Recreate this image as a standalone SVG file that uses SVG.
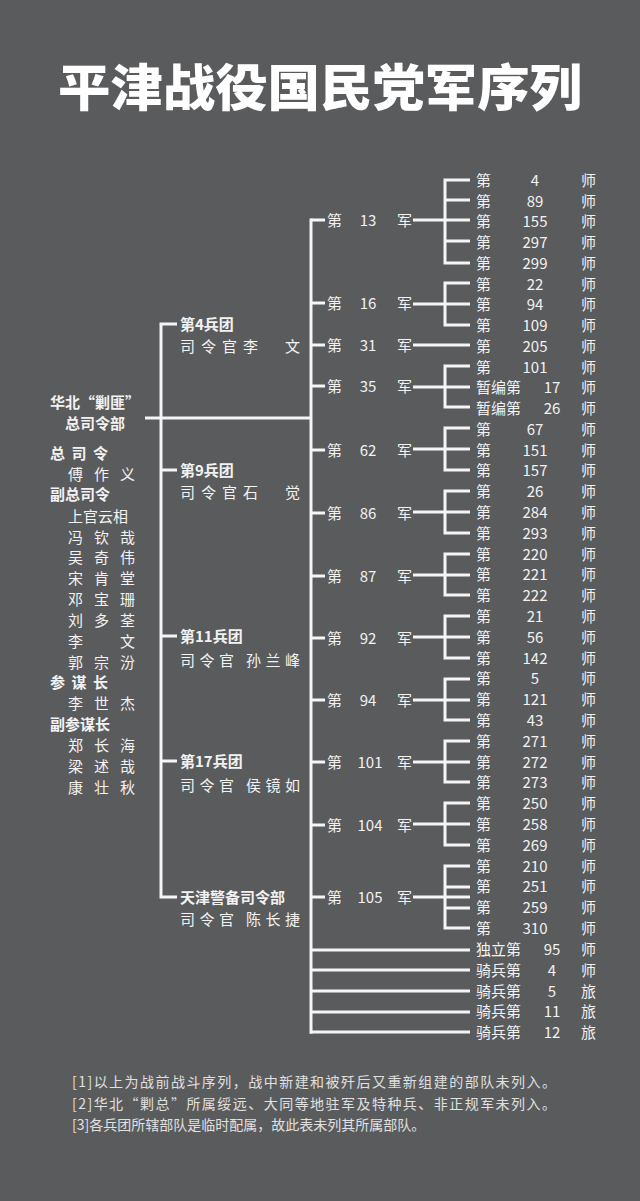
<svg xmlns="http://www.w3.org/2000/svg" width="640" height="1201" viewBox="0 0 640 1201">
<style>
text{font-family:"Noto Sans CJK SC","Noto Sans",sans-serif;fill:#f2f2f2;font-size:15px}
.b{font-weight:bold}
.t{font-size:50px;font-weight:900;fill:#fff}
.n{text-anchor:middle}
.f{font-size:14px;fill:#e0e0e0}
line,path{stroke:#f5f5f5;stroke-width:3;fill:none}
</style>
<rect width="640" height="1201" fill="#5a5b5d"/>
<text class="t" x="320" y="106" text-anchor="middle" textLength="524" lengthAdjust="spacingAndGlyphs">平津战役国民党军序列</text>
<g id="hq">
<text class="b" x="95" y="408" text-anchor="middle">华北“剿匪”</text>
<text class="b" x="95" y="429" text-anchor="middle">总司令部</text>
<text class="b" x="50" y="459" textLength="58">总司令</text>
<text x="68" y="480" textLength="67">傅作义</text>
<text class="b" x="50" y="500">副总司令</text>
<text x="68" y="522">上官云相</text>
<text x="68" y="543" textLength="67">冯钦哉</text>
<text x="68" y="563" textLength="67">吴奇伟</text>
<text x="68" y="584" textLength="67">宋肯堂</text>
<text x="68" y="605" textLength="67">邓宝珊</text>
<text x="68" y="626" textLength="67">刘多荃</text>
<text x="68" y="647" textLength="67">李　文</text>
<text x="68" y="668" textLength="67">郭宗汾</text>
<text class="b" x="50" y="688" textLength="58">参谋长</text>
<text x="68" y="709" textLength="67">李世杰</text>
<text class="b" x="50" y="730">副参谋长</text>
<text x="68" y="751" textLength="67">郑长海</text>
<text x="68" y="772" textLength="67">梁述哉</text>
<text x="68" y="793" textLength="67">康壮秋</text>
</g>
<g id="groups">
<text class="b" x="180" y="330">第4兵团</text><text x="180" y="352" textLength="120">司令官李　文</text>
<text class="b" x="180" y="476">第9兵团</text><text x="180" y="498" textLength="120">司令官石　觉</text>
<text class="b" x="180" y="642">第11兵团</text><text x="180" y="666" textLength="120">司令官 孙兰峰</text>
<text class="b" x="180" y="767">第17兵团</text><text x="180" y="791" textLength="120">司令官 侯镜如</text>
<text class="b" x="180" y="903">天津警备司令部</text><text x="180" y="925" textLength="120">司令官 陈长捷</text>
</g>
<g id="connectors">
<line x1="145" y1="418" x2="311" y2="418"/>
<path d="M177 324H161V897H177M161 470H177M161 636H177M161 761H177"/>
<path d="M311 218.5V1033.8"/>
<path d="M311 220H325M311 303H325M311 345H325M311 386H325M311 450H325M311 513H325M311 576H325M311 638H325M311 700H325M311 762H325M311 825H325M311 897H325"/>
<path d="M311 950H470M311 970H470M311 991H470M311 1012H470M311 1032H470"/>
<path d="M413 345H470"/>
<path d="M470 180H445V263H470M445 200H470M413 220H470M445 241H470"/>
<path d="M470 283H445V325H470M413 304H470"/>
<path d="M470 366H445V407H470M413 387H470"/>
<path d="M470 428H445V470H470M413 449H470"/>
<path d="M470 491H445V533H470M413 512H470"/>
<path d="M470 554H445V595H470M413 575H470"/>
<path d="M470 616H445V658H470M413 637H470"/>
<path d="M470 679H445V720H470M413 700H470"/>
<path d="M470 741H445V782H470M413 762H470"/>
<path d="M470 803H445V845H470M413 824H470"/>
<path d="M470 866H445V928H470M445 887H470M445 908H470M413 897H470"/>
</g>
<g id="armies">
<text x="327" y="226">第</text><text class="n" x="368" y="226">13</text><text x="397" y="226">军</text>
<text x="327" y="309">第</text><text class="n" x="368" y="309">16</text><text x="397" y="309">军</text>
<text x="327" y="351">第</text><text class="n" x="368" y="351">31</text><text x="397" y="351">军</text>
<text x="327" y="392">第</text><text class="n" x="368" y="392">35</text><text x="397" y="392">军</text>
<text x="327" y="456">第</text><text class="n" x="368" y="456">62</text><text x="397" y="456">军</text>
<text x="327" y="519">第</text><text class="n" x="368" y="519">86</text><text x="397" y="519">军</text>
<text x="327" y="582">第</text><text class="n" x="368" y="582">87</text><text x="397" y="582">军</text>
<text x="327" y="644">第</text><text class="n" x="368" y="644">92</text><text x="397" y="644">军</text>
<text x="327" y="706">第</text><text class="n" x="368" y="706">94</text><text x="397" y="706">军</text>
<text x="327" y="768">第</text><text class="n" x="370" y="768">101</text><text x="397" y="768">军</text>
<text x="327" y="831">第</text><text class="n" x="370" y="831">104</text><text x="397" y="831">军</text>
<text x="327" y="903">第</text><text class="n" x="370" y="903">105</text><text x="397" y="903">军</text>
</g>
<g id="divisions">
<text x="476" y="186">第</text><text class="n" x="535" y="186">4</text><text x="581" y="186">师</text>
<text x="476" y="207">第</text><text class="n" x="535" y="207">89</text><text x="581" y="207">师</text>
<text x="476" y="227">第</text><text class="n" x="535" y="227">155</text><text x="581" y="227">师</text>
<text x="476" y="248">第</text><text class="n" x="535" y="248">297</text><text x="581" y="248">师</text>
<text x="476" y="269">第</text><text class="n" x="535" y="269">299</text><text x="581" y="269">师</text>
<text x="476" y="290">第</text><text class="n" x="535" y="290">22</text><text x="581" y="290">师</text>
<text x="476" y="310">第</text><text class="n" x="535" y="310">94</text><text x="581" y="310">师</text>
<text x="476" y="331">第</text><text class="n" x="535" y="331">109</text><text x="581" y="331">师</text>
<text x="476" y="352">第</text><text class="n" x="535" y="352">205</text><text x="581" y="352">师</text>
<text x="476" y="373">第</text><text class="n" x="535" y="373">101</text><text x="581" y="373">师</text>
<text x="476" y="393">暂编第</text><text class="n" x="552" y="393">17</text><text x="581" y="393">师</text>
<text x="476" y="414">暂编第</text><text class="n" x="552" y="414">26</text><text x="581" y="414">师</text>
<text x="476" y="435">第</text><text class="n" x="535" y="435">67</text><text x="581" y="435">师</text>
<text x="476" y="456">第</text><text class="n" x="535" y="456">151</text><text x="581" y="456">师</text>
<text x="476" y="476">第</text><text class="n" x="535" y="476">157</text><text x="581" y="476">师</text>
<text x="476" y="497">第</text><text class="n" x="535" y="497">26</text><text x="581" y="497">师</text>
<text x="476" y="518">第</text><text class="n" x="535" y="518">284</text><text x="581" y="518">师</text>
<text x="476" y="539">第</text><text class="n" x="535" y="539">293</text><text x="581" y="539">师</text>
<text x="476" y="560">第</text><text class="n" x="535" y="560">220</text><text x="581" y="560">师</text>
<text x="476" y="580">第</text><text class="n" x="535" y="580">221</text><text x="581" y="580">师</text>
<text x="476" y="601">第</text><text class="n" x="535" y="601">222</text><text x="581" y="601">师</text>
<text x="476" y="622">第</text><text class="n" x="535" y="622">21</text><text x="581" y="622">师</text>
<text x="476" y="643">第</text><text class="n" x="535" y="643">56</text><text x="581" y="643">师</text>
<text x="476" y="664">第</text><text class="n" x="535" y="664">142</text><text x="581" y="664">师</text>
<text x="476" y="684">第</text><text class="n" x="535" y="684">5</text><text x="581" y="684">师</text>
<text x="476" y="705">第</text><text class="n" x="535" y="705">121</text><text x="581" y="705">师</text>
<text x="476" y="726">第</text><text class="n" x="535" y="726">43</text><text x="581" y="726">师</text>
<text x="476" y="747">第</text><text class="n" x="535" y="747">271</text><text x="581" y="747">师</text>
<text x="476" y="768">第</text><text class="n" x="535" y="768">272</text><text x="581" y="768">师</text>
<text x="476" y="788">第</text><text class="n" x="535" y="788">273</text><text x="581" y="788">师</text>
<text x="476" y="809">第</text><text class="n" x="535" y="809">250</text><text x="581" y="809">师</text>
<text x="476" y="830">第</text><text class="n" x="535" y="830">258</text><text x="581" y="830">师</text>
<text x="476" y="851">第</text><text class="n" x="535" y="851">269</text><text x="581" y="851">师</text>
<text x="476" y="872">第</text><text class="n" x="535" y="872">210</text><text x="581" y="872">师</text>
<text x="476" y="892">第</text><text class="n" x="535" y="892">251</text><text x="581" y="892">师</text>
<text x="476" y="913">第</text><text class="n" x="535" y="913">259</text><text x="581" y="913">师</text>
<text x="476" y="934">第</text><text class="n" x="535" y="934">310</text><text x="581" y="934">师</text>
<text x="476" y="955">独立第</text><text class="n" x="552" y="955">95</text><text x="581" y="955">师</text>
<text x="476" y="976">骑兵第</text><text class="n" x="552" y="976">4</text><text x="581" y="976">师</text>
<text x="476" y="997">骑兵第</text><text class="n" x="552" y="997">5</text><text x="581" y="997">旅</text>
<text x="476" y="1017">骑兵第</text><text class="n" x="552" y="1017">11</text><text x="581" y="1017">旅</text>
<text x="476" y="1038">骑兵第</text><text class="n" x="552" y="1038">12</text><text x="581" y="1038">旅</text>
</g>
<g id="notes">
<text class="f" x="72" y="1087" textLength="484">[1]以上为战前战斗序列，战中新建和被歼后又重新组建的部队未列入。</text>
<text class="f" x="72" y="1109" textLength="484">[2]华北“剿总”所属绥远、大同等地驻军及特种兵、非正规军未列入。</text>
<text class="f" x="72" y="1130">[3]各兵团所辖部队是临时配属，故此表未列其所属部队。</text>
</g>
</svg>
